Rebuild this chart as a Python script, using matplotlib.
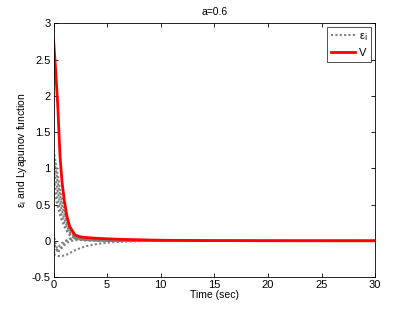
import matplotlib
matplotlib.use("Agg")
import matplotlib.pyplot as plt

plt.rcParams['font.family'] = ['Liberation Sans', 'DejaVu Sans']

t = [0, 0.2, 0.4, 0.6, 0.8, 1.0, 1.25, 1.5, 2, 2.5, 3, 4, 5, 6, 8, 10, 15, 20, 30]

e1 = [1.25, 1.08, 0.9, 0.72, 0.57, 0.45, 0.3, 0.17, 0.07, 0.035, 0.02, 0.01, 0.005, 0.003, 0.001, 0, 0, 0, 0]
e2 = [1.15, 0.98, 0.8, 0.63, 0.49, 0.38, 0.25, 0.15, 0.06, 0.03, 0.018, 0.01, 0.005, 0.002, 0.001, 0, 0, 0, 0]
e3 = [1.0, 0.85, 0.68, 0.53, 0.41, 0.31, 0.2, 0.12, 0.05, 0.025, 0.015, 0.008, 0.004, 0.002, 0.001, 0, 0, 0, 0]
e4 = [0.85, 0.72, 0.57, 0.44, 0.33, 0.25, 0.16, 0.1, 0.04, 0.02, 0.012, 0.006, 0.003, 0.001, 0, 0, 0, 0, 0]
e5 = [0.72, 0.6, 0.47, 0.36, 0.27, 0.2, 0.13, 0.08, 0.03, 0.015, 0.01, 0.005, 0.002, 0.001, 0, 0, 0, 0, 0]
e6 = [0.1, -0.05, -0.14, -0.13, -0.09, -0.06, -0.03, -0.01, 0.01, 0.01, 0.005, 0.002, 0.001, 0, 0, 0, 0, 0, 0]
e7 = [0.0, -0.1, -0.16, -0.12, -0.07, -0.03, 0.0, 0.02, 0.03, 0.02, 0.01, 0.005, 0.002, 0, 0, 0, 0, 0, 0]
e8 = [-0.18, -0.14, -0.1, -0.06, -0.03, -0.01, 0.01, 0.03, 0.04, 0.03, 0.02, 0.01, 0.005, 0.002, 0, 0, 0, 0, 0]
e9 = [-0.19, -0.2, -0.21, -0.21, -0.21, -0.2, -0.19, -0.17, -0.13, -0.1, -0.075, -0.045, -0.025, -0.015, -0.005, 0, 0, 0, 0]
errors = [e1, e2, e3, e4, e5, e6, e7, e8, e9]

V = [2.78, 2.35, 1.85, 1.18, 0.8, 0.56, 0.34, 0.2, 0.08, 0.055, 0.045, 0.035, 0.028, 0.022, 0.014, 0.008, 0.003, 0.001, 0]

fig = plt.figure(figsize=(4.15, 3.12), dpi=100)
ax = fig.add_axes([0.129, 0.112, 0.775, 0.813])

for i, e in enumerate(errors):
    ax.plot(t, e, linestyle=(0, (1, 1.1)), color='#7f7f7f', linewidth=1.5,
            label='ε$_\\mathrm{i}$' if i == 0 else None)
ax.plot(t, V, color='#ff0000', linewidth=2.0, label='V')

ax.set_xlim(0, 30)
ax.set_ylim(-0.5, 3)
ax.set_xticks([0, 5, 10, 15, 20, 25, 30])
ax.set_yticks([-0.5, 0, 0.5, 1, 1.5, 2, 2.5, 3])
ax.set_yticklabels(['-0.5', '0', '0.5', '1', '1.5', '2', '2.5', '3'])
ax.tick_params(direction='in', top=True, right=True, labelsize=8, length=3, width=0.6, pad=2)
for s in ax.spines.values():
    s.set_linewidth(0.6)

ax.set_title('a=0.6', fontsize=7.5, pad=6)
ax.set_xlabel('Time (sec)', fontsize=7.5, labelpad=0)
ax.set_ylabel('ε$_\\mathrm{i}$ and Lyapunov function', fontsize=7.5, labelpad=2)

leg = ax.legend(loc='upper right', fontsize=8, frameon=True, fancybox=False,
                edgecolor='black', handlelength=2.2, borderaxespad=0.35,
                handletextpad=0.3, borderpad=0.35, labelspacing=0.45)
leg.get_frame().set_linewidth(0.6)

fig.savefig('out.png', dpi=100)
